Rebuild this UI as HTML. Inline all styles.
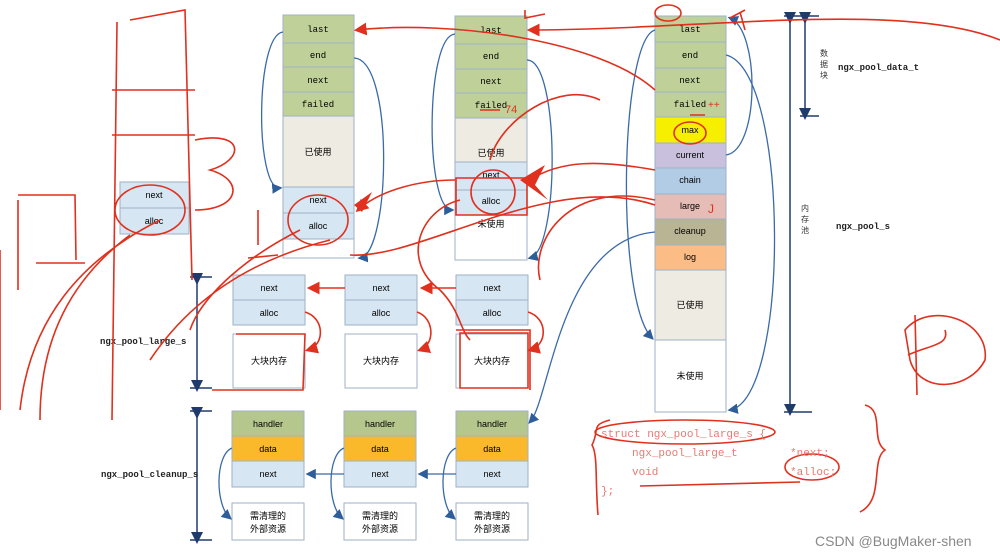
<!DOCTYPE html>
<html><head><meta charset="utf-8"><style>
body{margin:0;background:#fff;}
svg{display:block;font-family:"Liberation Sans","Noto Sans CJK SC",sans-serif;}
.m{font-family:"Liberation Mono","Noto Sans CJK SC",monospace;}
</style></head><body>
<svg width="1000" height="558" viewBox="0 0 1000 558" xmlns="http://www.w3.org/2000/svg">
<defs>
<marker id="ab" markerWidth="8" markerHeight="8" refX="6" refY="4" orient="auto"><path d="M0,0 L8,4 L0,8z" fill="#2e5e9a"/></marker>
<marker id="ar" markerWidth="8" markerHeight="8" refX="6" refY="4" orient="auto"><path d="M0,0 L8,4 L0,8z" fill="#e0301e"/></marker>
<marker id="an" markerWidth="8" markerHeight="8" refX="4" refY="4" orient="auto"><path d="M0,0 L8,4 L0,8z" fill="#1f3b6b"/></marker>
</defs>
<g stroke="#9fb2c6" stroke-width="1" font-size="9" text-anchor="middle">
<!-- main column -->
<rect x="655" y="16" width="71" height="26" fill="#bfd098"/><text x="690" y="32" stroke="none" class="m">last</text>
<rect x="655" y="42" width="71" height="26" fill="#bfd098"/><text x="690" y="58" stroke="none" class="m">end</text>
<rect x="655" y="68" width="71" height="24" fill="#bfd098"/><text x="690" y="83" stroke="none" class="m">next</text>
<rect x="655" y="92" width="71" height="25" fill="#bfd098"/><text x="690" y="107" stroke="none" class="m">failed</text>
<rect x="655" y="117" width="71" height="26" fill="#f6f000"/><text x="690" y="133" stroke="none">max</text>
<rect x="655" y="143" width="71" height="25" fill="#c8c0dc"/><text x="690" y="158" stroke="none">current</text>
<rect x="655" y="168" width="71" height="26" fill="#b3cce6"/><text x="690" y="183" stroke="none">chain</text>
<rect x="655" y="194" width="71" height="25" fill="#e6bcb6"/><text x="690" y="209" stroke="none">large</text>
<rect x="655" y="219" width="71" height="26" fill="#b9b493"/><text x="690" y="234" stroke="none">cleanup</text>
<rect x="655" y="245" width="71" height="25" fill="#fbbd85"/><text x="690" y="260" stroke="none">log</text>
<rect x="655" y="270" width="71" height="70" fill="#eeebe2"/><text x="690" y="308" stroke="none">已使用</text>
<rect x="655" y="340" width="71" height="72" fill="#fff"/><text x="690" y="379" stroke="none">未使用</text>
<!-- col1 -->
<rect x="283" y="15" width="71" height="28" fill="#bfd098"/><text x="318" y="32" stroke="none" class="m">last</text>
<rect x="283" y="43" width="71" height="24" fill="#bfd098"/><text x="318" y="58" stroke="none" class="m">end</text>
<rect x="283" y="67" width="71" height="25" fill="#bfd098"/><text x="318" y="83" stroke="none" class="m">next</text>
<rect x="283" y="92" width="71" height="24" fill="#bfd098"/><text x="318" y="107" stroke="none" class="m">failed</text>
<rect x="283" y="116" width="71" height="71" fill="#eeebe2"/><text x="318" y="155" stroke="none">已使用</text>
<rect x="283" y="187" width="71" height="26" fill="#d6e6f2"/><text x="318" y="203" stroke="none">next</text>
<rect x="283" y="213" width="71" height="26" fill="#d6e6f2"/><text x="318" y="229" stroke="none">alloc</text>
<rect x="283" y="239" width="71" height="19" fill="#fff"/>
<!-- col2 -->
<rect x="455" y="16" width="72" height="28" fill="#bfd098"/><text x="491" y="33" stroke="none" class="m">last</text>
<rect x="455" y="44" width="72" height="25" fill="#bfd098"/><text x="491" y="59" stroke="none" class="m">end</text>
<rect x="455" y="69" width="72" height="24" fill="#bfd098"/><text x="491" y="84" stroke="none" class="m">next</text>
<rect x="455" y="93" width="72" height="25" fill="#bfd098"/><text x="491" y="108" stroke="none" class="m">failed</text>
<rect x="455" y="118" width="72" height="44" fill="#eeebe2"/><text x="491" y="156" stroke="none">已使用</text>
<rect x="455" y="162" width="72" height="28" fill="#d6e6f2"/><text x="491" y="178" stroke="none">next</text>
<rect x="455" y="190" width="72" height="25" fill="#d6e6f2"/><text x="491" y="204" stroke="none">alloc</text>
<rect x="455" y="215" width="72" height="45" fill="#fff"/><text x="491" y="227" stroke="none">未使用</text>
<!-- leftmost -->
<rect x="120" y="182" width="69" height="26" fill="#d6e6f2"/><text x="154" y="198" stroke="none">next</text>
<rect x="120" y="208" width="69" height="26" fill="#d6e6f2"/><text x="154" y="224" stroke="none">alloc</text>
<!-- large row -->
<rect x="233" y="275" width="72" height="25" fill="#d6e6f2"/><text x="269" y="291" stroke="none">next</text>
<rect x="233" y="300" width="72" height="25" fill="#d6e6f2"/><text x="269" y="316" stroke="none">alloc</text>
<rect x="233" y="334" width="72" height="54" fill="#fff"/><text x="269" y="364" stroke="none">大块内存</text>
<rect x="345" y="275" width="72" height="25" fill="#d6e6f2"/><text x="381" y="291" stroke="none">next</text>
<rect x="345" y="300" width="72" height="25" fill="#d6e6f2"/><text x="381" y="316" stroke="none">alloc</text>
<rect x="345" y="334" width="72" height="54" fill="#fff"/><text x="381" y="364" stroke="none">大块内存</text>
<rect x="456" y="275" width="72" height="25" fill="#d6e6f2"/><text x="492" y="291" stroke="none">next</text>
<rect x="456" y="300" width="72" height="25" fill="#d6e6f2"/><text x="492" y="316" stroke="none">alloc</text>
<rect x="456" y="334" width="72" height="54" fill="#fff"/><text x="492" y="364" stroke="none">大块内存</text>
<!-- cleanup row -->
<g>
<rect x="232" y="411" width="72" height="25" fill="#b6c78e"/><text x="268" y="427" stroke="none">handler</text>
<rect x="232" y="436" width="72" height="25" fill="#f9b92a"/><text x="268" y="452" stroke="none">data</text>
<rect x="232" y="461" width="72" height="26" fill="#d6e6f2"/><text x="268" y="477" stroke="none">next</text>
<rect x="232" y="503" width="72" height="37" fill="#fff"/><text x="268" y="519" stroke="none">需清理的</text><text x="268" y="532" stroke="none">外部资源</text>
<rect x="344" y="411" width="72" height="25" fill="#b6c78e"/><text x="380" y="427" stroke="none">handler</text>
<rect x="344" y="436" width="72" height="25" fill="#f9b92a"/><text x="380" y="452" stroke="none">data</text>
<rect x="344" y="461" width="72" height="26" fill="#d6e6f2"/><text x="380" y="477" stroke="none">next</text>
<rect x="344" y="503" width="72" height="37" fill="#fff"/><text x="380" y="519" stroke="none">需清理的</text><text x="380" y="532" stroke="none">外部资源</text>
<rect x="456" y="411" width="72" height="25" fill="#b6c78e"/><text x="492" y="427" stroke="none">handler</text>
<rect x="456" y="436" width="72" height="25" fill="#f9b92a"/><text x="492" y="452" stroke="none">data</text>
<rect x="456" y="461" width="72" height="26" fill="#d6e6f2"/><text x="492" y="477" stroke="none">next</text>
<rect x="456" y="503" width="72" height="37" fill="#fff"/><text x="492" y="519" stroke="none">需清理的</text><text x="492" y="532" stroke="none">外部资源</text>
</g>
</g>
<!-- dimension lines -->
<g stroke="#1f3b6b" stroke-width="1.5" fill="none">
<line x1="197" y1="279" x2="197" y2="386" marker-start="url(#an)" marker-end="url(#an)"/>
<line x1="190" y1="277" x2="212" y2="277"/><line x1="190" y1="388" x2="212" y2="388"/>
<line x1="197" y1="413" x2="197" y2="538" marker-start="url(#an)" marker-end="url(#an)"/>
<line x1="190" y1="411" x2="212" y2="411"/><line x1="190" y1="540" x2="212" y2="540"/>
<line x1="790" y1="18" x2="790" y2="410" marker-start="url(#an)" marker-end="url(#an)"/>
<line x1="784" y1="16" x2="819" y2="16"/><line x1="784" y1="412" x2="812" y2="412"/>
<line x1="805" y1="18" x2="805" y2="114" marker-start="url(#an)" marker-end="url(#an)"/>
<line x1="800" y1="116" x2="819" y2="116"/>
</g>
<g font-size="9" font-weight="bold" class="m" fill="#222">
<text x="100" y="344" class="m">ngx_pool_large_s</text>
<text x="101" y="477" class="m">ngx_pool_cleanup_s</text>
<text x="838" y="70" class="m">ngx_pool_data_t</text>
<text x="836" y="229" class="m">ngx_pool_s</text>
</g>
<g font-size="8" fill="#333" text-anchor="middle">
<text x="824" y="56">数</text><text x="824" y="67">据</text><text x="824" y="78">块</text>
<text x="805" y="211">内</text><text x="805" y="222">存</text><text x="805" y="233">池</text>
</g>
<!-- blue connectors -->
<g stroke="#3a6aa8" stroke-width="1.3" fill="none">
<path d="M655,30 C620,40 615,300 652,338" marker-end="url(#ab)"/>
<path d="M726,55 C790,70 790,400 730,410" marker-end="url(#ab)"/>
<path d="M726,155 C760,150 760,30 730,18" marker-end="url(#ab)"/>
<path d="M655,232 C560,240 550,400 530,422" marker-end="url(#ab)"/>
<path d="M283,32 C255,35 255,190 280,188" marker-end="url(#ab)"/>
<path d="M354,58 C395,60 390,255 360,258" marker-end="url(#ab)"/>
<path d="M455,34 C425,36 425,210 452,210" marker-end="url(#ab)"/>
<path d="M527,60 C560,60 560,250 530,258" marker-end="url(#ab)"/>
<path d="M456,474 L420,474" marker-end="url(#ab)"/>
<path d="M344,474 L308,474" marker-end="url(#ab)"/>
<path d="M232,448 C215,455 215,505 230,518" marker-end="url(#ab)"/>
<path d="M344,448 C327,455 327,505 342,518" marker-end="url(#ab)"/>
<path d="M456,448 C439,455 439,505 454,518" marker-end="url(#ab)"/>
</g>
<!-- red connectors and scribbles -->
<g stroke="#e0301e" stroke-width="1.6" fill="none">
<path d="M456,288 L423,288" marker-end="url(#ar)"/>
<path d="M345,288 L310,288" marker-end="url(#ar)"/>
<path d="M305,312 C325,318 325,345 308,350" marker-end="url(#ar)"/>
<path d="M417,312 C435,318 435,345 420,350" marker-end="url(#ar)"/>
<path d="M528,312 C548,318 548,345 530,350" marker-end="url(#ar)"/>
<path d="M655,90 C600,40 450,20 357,30" marker-end="url(#ar)"/>
<path d="M1000,40 C900,0 700,30 530,30" marker-end="url(#ar)"/>
<path d="M655,205 C550,170 420,260 350,255"/>
<path d="M655,170 C600,160 560,160 530,180"/>
<path d="M455,180 C420,180 380,190 358,210" marker-end="url(#ar)"/>
<path d="M600,100 C560,80 500,120 490,160"/>
<path d="M460,200 C420,210 400,260 440,290 C460,310 460,330 470,340"/>
<path d="M655,200 C570,180 530,240 540,280"/>
<path d="M300,230 C240,260 200,300 190,330"/>
<path d="M160,220 C80,260 30,320 20,410"/>
<path d="M130,235 C70,280 40,340 40,420"/>
<path d="M330,240 C250,260 190,300 150,360"/>
<path d="M0,250 L0,410"/>
<path d="M130,20 L185,10 L192,280 M112,90 L195,90 M112,135 L195,135 M117,22 L112,420"/>
<path d="M195,140 C245,130 245,160 210,170 C245,180 240,210 195,210"/>
<path d="M18,195 L75,195 L76,260 M18,200 L18,290"/>
<path d="M36,263 L85,263"/>
<path d="M258,210 L258,245 M248,258 L278,255"/>
<path d="M456,178 L527,178 L527,215 L456,215z"/>
<ellipse cx="493" cy="192" rx="22" ry="22"/>
<ellipse cx="318" cy="220" rx="30" ry="25"/>
<ellipse cx="150" cy="210" rx="35" ry="25"/>
<ellipse cx="690" cy="133" rx="16" ry="11"/>
<ellipse cx="668" cy="13" rx="13" ry="8"/>
<path d="M460,333 L528,333 L528,388 L460,388z M456,330 L530,330 L530,390"/>
<path d="M236,334 L305,334 L303,390 L212,390"/>
<path d="M480,110 L500,110 M690,115 L705,115"/>
<ellipse cx="685" cy="432" rx="90" ry="12"/>
<ellipse cx="812" cy="467" rx="27" ry="13"/>
<path d="M610,420 C590,425 600,430 592,445 C598,455 595,480 598,515"/>
<path d="M865,405 C885,410 870,440 885,450 C870,460 885,500 860,512"/>
<path d="M640,486 L800,482"/>
<path d="M905,330 C930,300 990,320 985,360 C970,390 920,395 910,360 Z M915,315 L917,395 M908,355 C930,345 950,345 945,330"/>
<path d="M730,18 L745,10 M745,30 L740,12"/>
<path d="M525,10 L525,18 L545,14"/>
</g>
<path d="M520,180 L545,165 L535,185 L548,200 Z" fill="#e0301e"/>
<path d="M354,205 L372,192 L362,212 Z" fill="#e0301e"/>
<text x="505" y="113" font-size="11" fill="#e0301e">74</text>
<text x="708" y="108" font-size="10" fill="#e0301e">++</text>
<text x="708" y="213" font-size="12" fill="#e0301e">J</text>
<!-- code -->
<g class="m" font-size="11" fill="#e87a72">
<text x="601" y="437">struct ngx_pool_large_s {</text>
<text x="632" y="456">ngx_pool_large_t</text><text x="790" y="456">*next;</text>
<text x="632" y="475">void</text><text x="790" y="475">*alloc;</text>
<text x="601" y="494">};</text>
</g>
<text x="815" y="546" font-size="14" fill="#888" font-family="Liberation Sans, sans-serif">CSDN @BugMaker-shen</text>
</svg>
</body></html>
